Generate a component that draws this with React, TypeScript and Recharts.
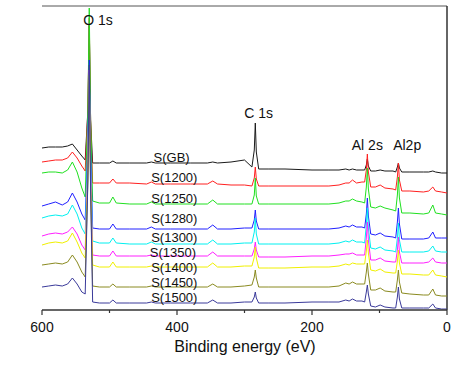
import React from 'react';
import { LineChart, Line, XAxis, YAxis, ReferenceDot, ReferenceLine } from 'recharts';

// Binding energy grid (eV)
const energies = [600,590,580,570,562,555,548,541,536,532,530,528,525,515,500,495,490,470,445,438,432,410,380,355,347,340,320,300,289,285.5,284,282.5,279,265,240,200,175,160,150,145,140,134,126,122,119.5,118,116.5,113,106,99,92,80,76,73.5,72,70.5,67,55,35,27,21,17,8,0];

// Intensities (stacked, arbitrary units)
const sGB = [162,163,163,163,164,166,160,154,150,200,285,190,147,147,147,149,147,147,147,148,147,147,147,147,148,147,148,150,143,160,187,158,141,141,141,140,140,140,141,140,141,140,140,140,145,151,144,139,139,140,139,139,138,143,147,142,138,138,138,138,139,138,137,137];
const s1200 = [148,149,150,150,152,158,152,144,139,200,292,190,127,127,127,131,127,127,126,128,126,126,126,126,129,126,125,125,124,132,143,131,124,124,124,124,124,125,127,127,130,127,128,128,140,156,138,123,123,125,122,121,120,133,147,130,119,119,118,119,123,119,118,117];
const s1250 = [137,138,138,137,140,148,138,122,113,200,302,190,109,107,107,113,107,106,106,108,106,106,106,106,110,106,106,106,106,115,132,114,106,106,106,106,106,107,109,109,111,109,108,107,123,142,121,103,102,104,102,100,99,115,133,112,97,97,96,97,105,97,96,95];
const s1280 = [104,106,108,105,108,117,108,96,90,170,250,160,82,81,81,86,81,81,81,83,81,81,81,81,85,81,81,82,82,90,100,89,81,81,81,81,81,82,84,83,85,83,83,82,96,112,94,76,75,77,74,73,72,88,102,86,71,71,71,72,78,72,72,72];
const s1300 = [92,94,95,94,96,105,96,82,76,160,235,150,69,67,67,72,67,66,66,68,66,66,66,66,70,66,66,67,67,78,92,76,66,66,66,66,66,67,69,68,70,68,68,67,85,102,82,62,61,63,60,59,58,72,87,70,58,58,58,59,64,59,58,58];
const s1350 = [74,76,77,76,78,83,76,65,60,150,240,140,55,54,54,59,54,54,54,55,54,54,54,54,58,54,54,54,54,61,68,60,53,53,53,54,54,55,56,56,57,55,55,55,72,88,70,50,50,52,49,48,48,60,73,58,47,47,47,48,52,48,47,47];
const s1400 = [65,67,68,67,69,77,68,57,52,140,230,130,45,43,43,48,43,43,43,44,43,43,43,43,47,43,43,44,44,53,63,52,42,42,42,43,43,44,46,45,47,46,46,46,59,70,57,40,39,41,38,37,37,49,60,47,36,36,35,35,40,35,34,33];
const s1450 = [45,46,47,46,48,55,48,38,33,130,235,120,24,23,23,26,23,23,23,24,23,23,23,23,26,23,23,24,25,33,40,32,23,23,23,23,23,24,27,26,28,26,26,26,38,47,36,20,20,22,19,18,18,30,40,28,17,16,15,15,21,15,14,14];
const s1500 = [23,24,25,24,26,32,26,18,16,130,245,120,8,7,7,10,7,7,7,8,7,7,7,7,10,7,7,8,8,13,18,12,7,7,7,8,8,8,10,9,11,9,9,8,18,25,16,4,3,5,3,2,2,13,23,11,2,2,2,2,6,2,1,1];

const seriesNames = ['S(GB)','S(1200)','S(1250)','S(1280)','S(1300)','S(1350)','S(1400)','S(1450)','S(1500)'];
const seriesValues = [sGB, s1200, s1250, s1280, s1300, s1350, s1400, s1450, s1500];
const seriesColors = ['#1a1a1a','#ff2020','#20e020','#2020ff','#00f0f0','#ff20ff','#f0f000','#8a8a20','#3a3a9a'];

// Annotation anchors (data coordinates)
const seriesLabelE = [408,404,404,404,404,406,404,404,404];
const seriesLabelV = [153,133,112,92,73,58,43,28,13];
const peakNames = ['O 1s','C 1s','Al 2s','Al2p'];
const peakLabelE = [517,279,118,59];
const peakLabelV = [290,197,165,165];

const xTicks = [0,100,200,300,400,500,600];

const FONT = "'Liberation Sans', Arial, Helvetica, sans-serif";

const rows = energies.map((e, i) => {
  const r: Record<string, number> = { e };
  seriesValues.forEach((vals, k) => { r['s' + k] = vals[i]; });
  return r;
});

const XTick = (props: any) => {
  const { x, y, payload } = props;
  const v = payload.value;
  const major = v % 200 === 0;
  return (
    <g>
      <line x1={x} x2={x} y1={y} y2={y + (major ? 5 : 3)} stroke="#333" strokeWidth={1.2} />
      {major && (
        <text x={x} y={y + 22} textAnchor="middle" fontSize={14} fill="#111" fontFamily={FONT}>{v}</text>
      )}
    </g>
  );
};

const XTitle = () => (
  <text x={245} y={352} textAnchor="middle" fontSize={16} fill="#111" fontFamily={FONT}>Binding energy (eV)</text>
);

const YTitle = () => (
  <text x={32} y={172} transform="rotate(-90 32 172)" textAnchor="middle" fontSize={16} fill="#111" fontFamily={FONT}>Intensity (a.u.)</text>
);

export default function App() {
  return (
    <div style={{ position: 'absolute', left: 0, top: 0, background: '#fff' }}>
      <LineChart width={462} height={369} data={rows} margin={{ top: 6, right: 15, bottom: 29, left: 42 }}>
        <XAxis
          dataKey="e"
          type="number"
          domain={[0, 600]}
          reversed
          ticks={xTicks}
          interval={0}
          tickSize={0}
          tickMargin={0}
          tickLine={false}
          height={30}
          axisLine={{ stroke: '#333', strokeWidth: 1.5 }}
          tick={<XTick />}
          label={<XTitle />}
        />
        <YAxis
          type="number"
          domain={[0, 304]}
          width={0}
          tick={false}
          tickLine={false}
          axisLine={{ stroke: '#333', strokeWidth: 1.5 }}
          label={<YTitle />}
        />
        <ReferenceLine y={304} stroke="#555" strokeWidth={1} />
        <ReferenceLine x={0} stroke="#333" strokeWidth={1.5} />
        {seriesValues.map((_, k) => (
          <Line
            key={k}
            dataKey={'s' + k}
            type="linear"
            stroke={seriesColors[k]}
            strokeWidth={1}
            dot={false}
            isAnimationActive={false}
          />
        ))}
        {seriesNames.map((n, k) => (
          <ReferenceDot
            key={'sl' + k}
            x={seriesLabelE[k]}
            y={seriesLabelV[k]}
            r={0}
            fill="none"
            stroke="none"
            label={{ value: n, position: 'center', fontSize: 13, fill: '#111', fontFamily: FONT }}
          />
        ))}
        {peakNames.map((n, k) => (
          <ReferenceDot
            key={'pl' + k}
            x={peakLabelE[k]}
            y={peakLabelV[k]}
            r={0}
            fill="none"
            stroke="none"
            label={{ value: n, position: 'center', fontSize: 14, fill: '#111', fontFamily: FONT }}
          />
        ))}
      </LineChart>
    </div>
  );
}
